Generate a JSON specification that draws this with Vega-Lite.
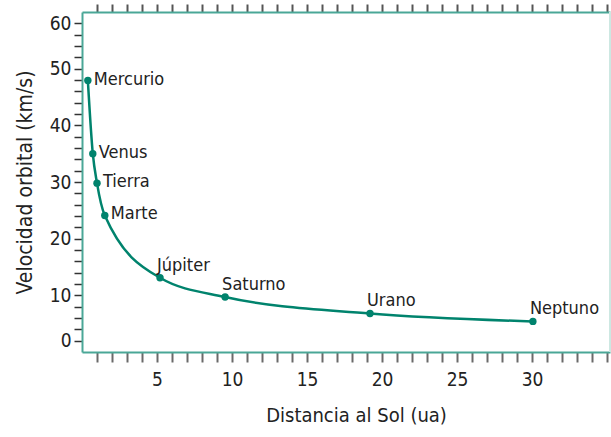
{
  "$schema": "https://vega.github.io/schema/vega-lite/v6.json",
  "width": 528,
  "height": 340,
  "autosize": {"type": "none"},
  "padding": {"left": 82, "top": 12, "right": 1, "bottom": 85},
  "background": "white",
  "config": {
    "view": {"stroke": null},
    "font": "DejaVu Sans Condensed",
    "axis": {"grid": false, "labelFont": "DejaVu Sans Condensed", "titleFont": "DejaVu Sans Condensed", "labelColor": "#222", "titleColor": "#222", "titleFontWeight": "normal"}
  },
  "data": {
    "values": [
      {"planeta": "Mercurio", "dist": 0.39, "vel": 47.9, "grupo": "lado"},
      {"planeta": "Venus", "dist": 0.72, "vel": 35.0, "grupo": "lado"},
      {"planeta": "Tierra", "dist": 1.0, "vel": 29.8, "grupo": "lado"},
      {"planeta": "Marte", "dist": 1.52, "vel": 24.1, "grupo": "lado"},
      {"planeta": "Júpiter", "dist": 5.2, "vel": 13.1, "grupo": "arriba"},
      {"planeta": "Saturno", "dist": 9.54, "vel": 9.7, "grupo": "arriba"},
      {"planeta": "Urano", "dist": 19.2, "vel": 6.8, "grupo": "arriba"},
      {"planeta": "Neptuno", "dist": 30.06, "vel": 5.4, "grupo": "arriba"}
    ]
  },
  "layer": [
    {
      "mark": {"type": "line", "interpolate": "monotone", "color": "#00836d", "strokeWidth": 2.5},
      "encoding": {
        "x": {
          "field": "dist", "type": "quantitative",
          "scale": {"domain": [0, 35.2], "nice": false, "zero": false},
          "axis": {
            "orient": "bottom",
            "title": "Distancia al Sol (ua)",
            "titleFontSize": 20,
            "titleFontWeight": "normal",
            "titlePadding": 16,
            "titleX": 274,
            "values": [1,2,3,4,5,6,7,8,9,10,11,12,13,14,15,16,17,18,19,20,21,22,23,24,25,26,27,28,29,30,31,32,33,34,35],
            "labelExpr": "datum.value % 5 == 0 && datum.value <= 30 ? datum.label : ''",
            "labelFontSize": 19,
            "labelPadding": 8,
            "labelFlush": false,
            "labelOverlap": false,
            "tickSize": 10,
            "tickWidth": 2,
            "tickColor": "#6a6a6a",
            "domainColor": "#4aa797",
            "domainWidth": 2
          }
        },
        "y": {
          "field": "vel", "type": "quantitative",
          "scale": {"domain": [0, 60], "nice": false},
          "axis": {
            "title": "Velocidad orbital (km/s)",
            "titleFontSize": 21,
            "titleFontWeight": "normal",
            "titlePadding": 14,
            "values": [2,4,6,8,10,12,14,16,18,20,22,24,26,28,30,32,34,36,38,40,42,44,46,48,50,52,54,56,58],
            "labelExpr": "datum.value == 2 ? '0' : datum.value == 58 ? '60' : (datum.value % 10 == 0 ? datum.label : '')",
            "labelFontSize": 19,
            "labelPadding": 3,
            "labelOverlap": false,
            "labelFlush": false,
            "tickSize": 8,
            "tickWidth": 1.5,
            "tickColor": "#333",
            "domainColor": "#4aa797",
            "domainWidth": 2
          }
        }
      }
    },
    {
      "mark": {"type": "circle", "color": "#00836d", "opacity": 1, "size": 55},
      "encoding": {
        "x": {"field": "dist", "type": "quantitative", "axis": null},
        "y": {"field": "vel", "type": "quantitative", "axis": null}
      }
    },
    {
      "transform": [{"filter": "datum.grupo == 'lado'"}],
      "mark": {"type": "text", "align": "left", "baseline": "middle", "dx": 6, "dy": -1, "fontSize": 18, "color": "#222", "font": "DejaVu Sans Condensed"},
      "encoding": {
        "x": {"field": "dist", "type": "quantitative", "axis": null},
        "y": {"field": "vel", "type": "quantitative", "axis": null},
        "text": {"field": "planeta"}
      }
    },
    {
      "transform": [{"filter": "datum.grupo == 'arriba'"}],
      "mark": {"type": "text", "align": "left", "baseline": "alphabetic", "dx": -3, "dy": -7, "fontSize": 18, "color": "#222", "font": "DejaVu Sans Condensed"},
      "encoding": {
        "x": {"field": "dist", "type": "quantitative", "axis": null},
        "y": {"field": "vel", "type": "quantitative", "axis": null},
        "text": {"field": "planeta"}
      }
    },
    {
      "mark": {"type": "rule", "opacity": 0},
      "encoding": {
        "x": {"field": "dist", "type": "quantitative", "axis": {"orient": "top", "title": null, "labels": false, "values": [1,2,3,4,5,6,7,8,9,10,11,12,13,14,15,16,17,18,19,20,21,22,23,24,25,26,27,28,29,30,31,32,33,34,35], "tickSize": 8, "tickWidth": 2, "tickColor": "#555", "domainColor": "#4aa797", "domainWidth": 2}}
      }
    },
    {
      "mark": {"type": "rule", "color": "#cde8e2", "strokeWidth": 2},
      "encoding": {"x": {"datum": 35.2, "type": "quantitative", "axis": null}}
    }
  ],
  "resolve": {"axis": {"x": "independent", "y": "independent"}}
}
